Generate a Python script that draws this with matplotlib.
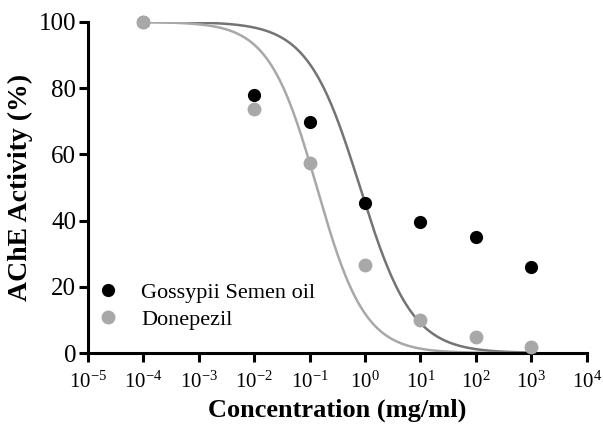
import numpy as np
import matplotlib
matplotlib.use("Agg")
import matplotlib.pyplot as plt

# measured data (% AChE activity)
conc = [1e-4, 1e-2, 1e-1, 1e0, 1e1, 1e2, 1e3]
gossypii = [100, 77.9, 69.8, 45.2, 39.6, 35.0, 26.0]
donepezil = [100, 73.6, 57.4, 26.6, 10.0, 4.9, 1.7]

# fitted dose-response parameters (log IC50, Hill slope)
gossypii_fit = (-0.09, 0.92)
donepezil_fit = (-0.87, 1.0)

xticks = [10.0 ** p for p in range(-5, 5)]
xticklabels = [r"$\mathregular{10^{%d}}$" % p for p in range(-5, 5)]

plt.rcParams["font.family"] = "Liberation Serif"
plt.rcParams["mathtext.fontset"] = "custom"
plt.rcParams["mathtext.rm"] = "Liberation Serif"


def hill(x, log_ic50, slope):
    return 100 / (1 + 10 ** (slope * (np.log10(x) - log_ic50)))


fig = plt.figure(figsize=(6.03, 4.29), dpi=100)
ax = fig.add_axes([0.146, 0.177, 0.827, 0.772])

xs = np.logspace(-4, 3, 400)
ax.plot(xs, hill(xs, *gossypii_fit), color="#747474", lw=1.8, zorder=2)
ax.plot(xs, hill(xs, *donepezil_fit), color="#a8a8a8", lw=1.8, zorder=2)

ax.plot(conc, gossypii, "o", color="black", ms=9.5, mew=0, ls="none",
        clip_on=False, zorder=3, label="Gossypii Semen oil")
ax.plot(conc, donepezil, "o", color="#a8a8a8", ms=10, mew=0, ls="none",
        clip_on=False, zorder=4, label="Donepezil")

ax.set_xscale("log")
ax.set_xlim(1e-5, 1e4)
ax.set_ylim(0, 100)
ax.set_xticks(xticks)
ax.set_xticklabels(xticklabels)
ax.minorticks_off()
ax.set_yticks([0, 20, 40, 60, 80, 100])

for side in ("top", "right"):
    ax.spines[side].set_visible(False)
for side in ("left", "bottom"):
    ax.spines[side].set_linewidth(2.2)
ax.tick_params(axis="both", length=6.5, width=2.2)
ax.tick_params(axis="x", labelsize=15, pad=7)
ax.tick_params(axis="y", labelsize=18, pad=2)

ax.set_xlabel("Concentration (mg/ml)", fontsize=19, fontweight="bold", labelpad=4)
ax.set_ylabel("AChE Activity (%)", fontsize=20, fontweight="bold", labelpad=4)

ax.legend(loc="lower left", bbox_to_anchor=(0.018, 0.07), frameon=False,
          fontsize=16, handlelength=1.0, handletextpad=1.0, borderaxespad=0,
          borderpad=0, labelspacing=0.28)

fig.savefig("out.png", dpi=100)
